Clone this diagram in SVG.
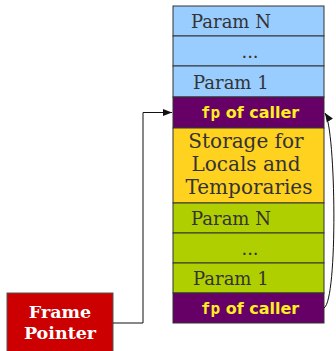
<svg xmlns="http://www.w3.org/2000/svg" width="336" height="351" viewBox="0 0 336 351">
<defs>
<style>
.cell{stroke:#333;stroke-width:1}
.blue{fill:#99ccff}
.purple{fill:#660066}
.yellow{fill:#ffd21f}
.green{fill:#b0cf00}
.t{font-family:"DejaVu Serif",serif;font-size:18px;fill:#333}
.big{font-size:20px}
.fp{font-family:"DejaVu Sans",sans-serif;font-weight:bold;font-size:16px;fill:#ffee22}
.mono{font-family:"DejaVu Sans Mono",monospace}
.fpt{font-family:"DejaVu Serif",serif;font-weight:bold;font-size:17.5px;fill:#fff}
.conn{fill:none;stroke:#111;stroke-width:1}
</style>
<marker id="ah" viewBox="0 0 10 10" refX="10" refY="5" markerWidth="9" markerHeight="9" markerUnits="userSpaceOnUse" orient="auto">
<path d="M0,1 L10,5 L0,9 z" fill="#111"/>
</marker>
</defs>
<g id="paramN-top"><rect class="cell blue" x="173" y="6" width="151" height="30"/><text class="t" x="191" y="28">Param N</text></g>
<g id="dots-top"><rect class="cell blue" x="173" y="36" width="151" height="30"/><text class="t" x="250" y="58" text-anchor="middle">...</text></g>
<g id="param1-top"><rect class="cell blue" x="173" y="66" width="151" height="31"/><text class="t" x="193" y="89">Param 1</text></g>
<g id="fp-top"><rect class="cell purple" x="173" y="97" width="151" height="31"/><text class="fp" x="250" y="118" text-anchor="middle"><tspan class="mono">fp</tspan> of caller</text></g>
<g id="storage"><rect class="cell yellow" x="173" y="128" width="151" height="75"/><text class="t big" x="246" y="148" text-anchor="middle">Storage for</text><text class="t big" x="246" y="171" text-anchor="middle">Locals and</text><text class="t big" x="249" y="194" text-anchor="middle">Temporaries</text></g>
<g id="paramN-bot"><rect class="cell green" x="173" y="203" width="151" height="30"/><text class="t" x="191" y="225">Param N</text></g>
<g id="dots-bot"><rect class="cell green" x="173" y="233" width="151" height="30"/><text class="t" x="250" y="255" text-anchor="middle">...</text></g>
<g id="param1-bot"><rect class="cell green" x="173" y="263" width="151" height="30"/><text class="t" x="193" y="285">Param 1</text></g>
<g id="fp-bot"><rect class="cell purple" x="173" y="293" width="151" height="30"/><text class="fp" x="250" y="314" text-anchor="middle"><tspan class="mono">fp</tspan> of caller</text></g>
<g id="frame-pointer"><rect x="7" y="293" width="106" height="60" fill="#cc0000" stroke="#555" stroke-width="1"/><text class="fpt" x="60" y="318" text-anchor="middle">Frame</text><text class="fpt" x="60" y="339" text-anchor="middle">Pointer</text></g>
<g id="connectors">
<path class="conn" d="M113,323 H143 V112.5 H172" marker-end="url(#ah)"/>
<path class="conn" d="M324,308 C338,300 336,130 325,113" marker-end="url(#ah)"/>
</g>
</svg>
